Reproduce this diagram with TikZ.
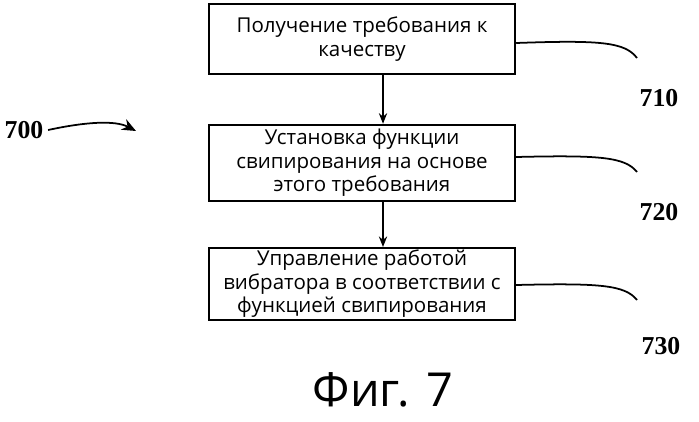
\documentclass[tikz,border=0pt]{standalone}
\usepackage{fontspec}
\setmainfont{Open Sans}
\newfontfamily\numfont{Liberation Serif}
\usetikzlibrary{positioning,arrows.meta}
\begin{document}
\begin{tikzpicture}[x=0.03cm,y=-0.03cm, line width=1.5pt,
  stepbox/.style={rectangle, draw, minimum width=9.2cm, align=center, font=\fontsize{17.5}{20}\selectfont, inner sep=2pt},
  reflabel/.style={font=\numfont\bfseries\fontsize{22}{24}\selectfont},
  flow/.style={-{Stealth[length=9pt,width=7pt,open]}}]
  \useasboundingbox (0,0) rectangle (699,422);
		\path (362, 39) node(get) [stepbox, minimum height=2.1cm] {Получение требования к\\качеству};
		\path (362, 163) node(set) [stepbox, minimum height=2.3cm] {Установка функции\\свипирования на основе\\этого требования};
		\path (362, 284) node(run) [stepbox, minimum height=2.05cm] {Управление работой\\вибратора в соответствии с\\функцией свипирования};
		\path (383, 390) node(fig) [font=\fontsize{40}{44}\selectfont] {Фиг. 7};
		\path (659, 98) node(n710) [reflabel] {710};
		\path (659, 212) node(n720) [reflabel] {720};
		\path (661, 346) node(n730) [reflabel] {730};
		\path (24, 130) node(n700) [reflabel] {700};
		\draw [flow] (get.south -| 383,0) to (set.north -| 383,0);
		\draw [flow] (set.south -| 383,0) to (run.north -| 383,0);
		\draw (get.east |- 0,43) .. controls (600,40) and (625,42) .. (637,58);
		\draw (set.east |- 0,157) .. controls (600,155) and (625,157) .. (637,172);
		\draw (run.east |- 0,285) .. controls (600,283) and (625,285) .. (637,300);
		\draw [-{Stealth[length=12pt,width=10pt]}] (n700.east) .. controls (85,122) and (115,120) .. (136,131);
	\end{tikzpicture}
\end{document}
